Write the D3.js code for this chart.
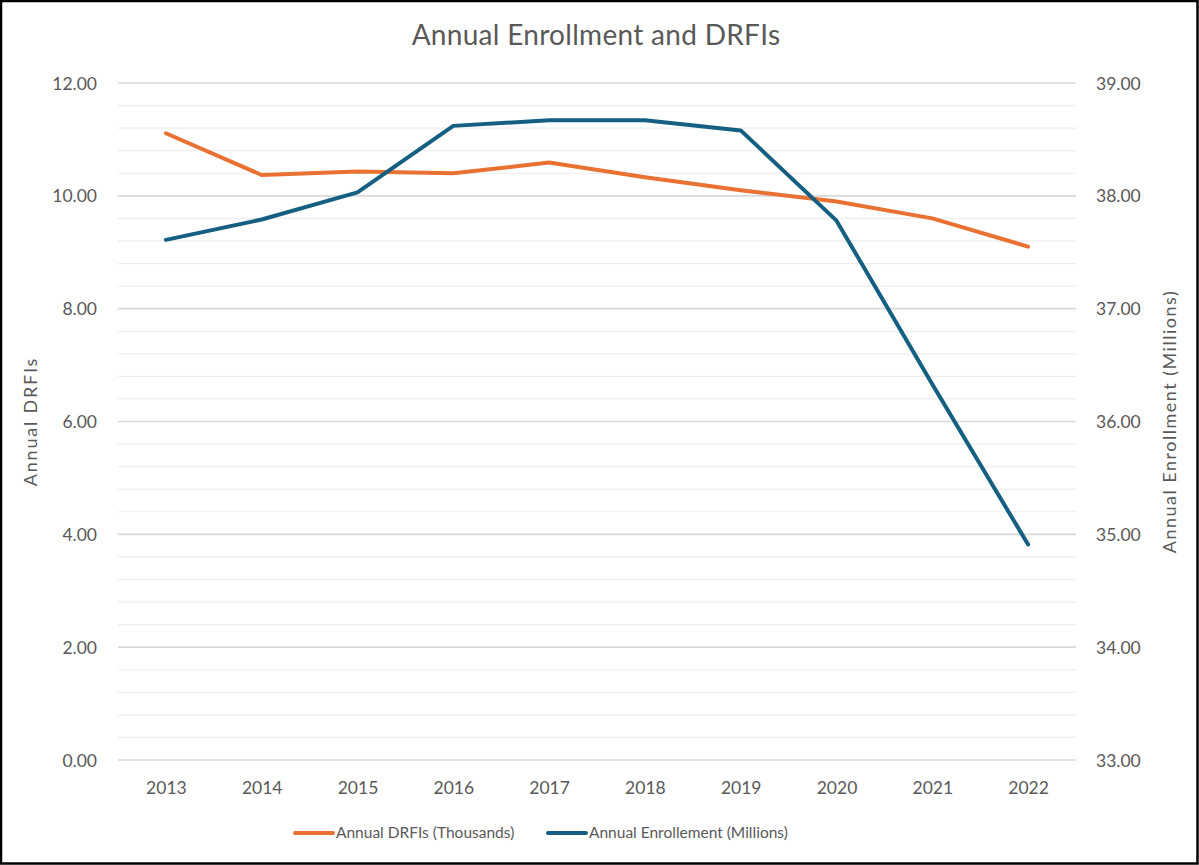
<!DOCTYPE html>
<html><head><meta charset="utf-8">
<script src="https://cdn.jsdelivr.net/npm/d3@7/dist/d3.min.js"></script>
<style>
html,body{margin:0;padding:0;background:#fff;}
svg{display:block;}
text{font-family:Lato,"Open Sans",sans-serif;fill:#595959;}
</style></head>
<body>
<script>
const years = ["2013","2014","2015","2016","2017","2018","2019","2020","2021","2022"];
const drfis = [11.11,10.37,10.43,10.40,10.59,10.33,10.10,9.90,9.60,9.10];
const enrollment = [37.61,37.79,38.03,38.62,38.67,38.67,38.58,37.78,36.33,34.91];
const leftTicks = [0,2,4,6,8,10,12];
const rightTicks = [33,34,35,36,37,38,39];
const seriesNames = ["Annual DRFIs (Thousands)","Annual Enrollement (Millions)"];
const colors = ["#E97132","#156082"];

const W=1199,H=865;
const svg=d3.select("body").append("svg").attr("width",W).attr("height",H);
svg.append("rect").attr("x",1).attr("y",1).attr("width",W-2.5).attr("height",H-2.5)
  .attr("fill","#fff").attr("stroke","#000").attr("stroke-width",2.5);

const L=118,R=1076,T=83,B=760;
const x=d3.scalePoint().domain(years).range([L,R]).padding(0.5);
const yL=d3.scaleLinear().domain([0,12]).range([B,T]);
const yR=d3.scaleLinear().domain([33,39]).range([B,T]);

// minor gridlines
const minor=d3.range(0,12.001,0.4).filter(v=>Math.abs(v/2-Math.round(v/2))>1e-6);
svg.append("g").selectAll("line").data(minor).join("line")
  .attr("x1",L).attr("x2",R).attr("y1",d=>yL(d)).attr("y2",d=>yL(d))
  .attr("stroke","#EDEDED").attr("stroke-width",1.2);
svg.append("g").selectAll("line").data(leftTicks).join("line")
  .attr("x1",L).attr("x2",R).attr("y1",d=>yL(d)).attr("y2",d=>yL(d))
  .attr("stroke","#D9D9D9").attr("stroke-width",1.6);

// axes
const gl=svg.append("g").attr("transform",`translate(${L-21},0)`)
  .call(d3.axisLeft(yL).tickValues(leftTicks).tickFormat(d3.format(".2f")).tickSize(0));
gl.select(".domain").remove();
gl.selectAll("text").attr("font-size",17.5).attr("x",0).attr("dy","0.35em").style("fill","#595959");

const gr=svg.append("g").attr("transform",`translate(${R+20},0)`)
  .call(d3.axisRight(yR).tickValues(rightTicks).tickFormat(d3.format(".2f")).tickSize(0));
gr.select(".domain").remove();
gr.selectAll("text").attr("font-size",17.5).attr("x",0).attr("dy","0.35em").style("fill","#595959");

const gx=svg.append("g").attr("transform",`translate(0,${B+20})`)
  .call(d3.axisBottom(x).tickSize(0));
gx.select(".domain").remove();
gx.selectAll("text").attr("font-size",17.5).attr("y",0).attr("dy","0.8em").style("fill","#595959");

// lines
const lineL=d3.line().x((d,i)=>x(years[i])).y(d=>yL(d));
const lineR=d3.line().x((d,i)=>x(years[i])).y(d=>yR(d));
svg.append("path").datum(drfis).attr("d",lineL).attr("fill","none")
  .attr("stroke",colors[0]).attr("stroke-width",4).attr("stroke-linejoin","round").attr("stroke-linecap","round");
svg.append("path").datum(enrollment).attr("d",lineR).attr("fill","none")
  .attr("stroke",colors[1]).attr("stroke-width",4).attr("stroke-linejoin","round").attr("stroke-linecap","round");

// title
svg.append("text").attr("x",596).attr("y",45).attr("text-anchor","middle")
  .attr("font-size",28).attr("letter-spacing",0.3).text("Annual Enrollment and DRFIs");

// axis titles
svg.append("text").attr("transform",`translate(37,${(T+B)/2}) rotate(-90)`)
  .attr("text-anchor","middle").attr("font-size",18).attr("letter-spacing",1.8).text("Annual DRFIs");
svg.append("text").attr("transform",`translate(1176,${(T+B)/2}) rotate(-90)`)
  .attr("text-anchor","middle").attr("font-size",18).attr("letter-spacing",1.5).text("Annual Enrollment (Millions)");

// legend
const lx=[295,548];
seriesNames.forEach((n,i)=>{
  svg.append("line").attr("x1",lx[i]).attr("x2",lx[i]+38).attr("y1",833).attr("y2",833)
    .attr("stroke",colors[i]).attr("stroke-width",4).attr("stroke-linecap","round");
  svg.append("text").attr("x",lx[i]+41).attr("y",833).attr("dy","0.35em")
    .attr("font-size",15.5).text(n);
});
</script>
</body></html>
